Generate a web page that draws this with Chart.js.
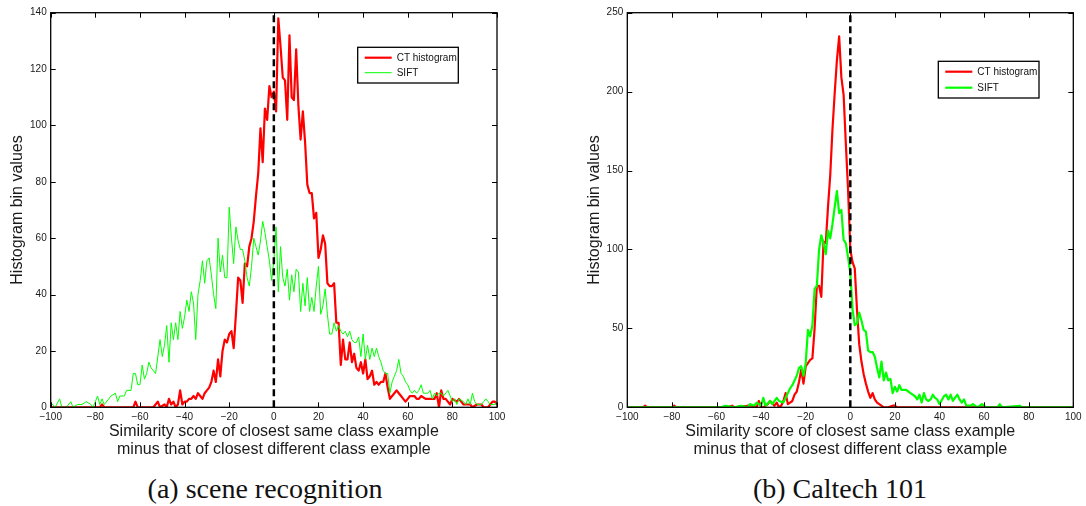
<!DOCTYPE html>
<html>
<head>
<meta charset="utf-8">
<script src="https://cdn.jsdelivr.net/npm/chart.js@4"></script>
<style>
  body { margin: 0; background: #fff; width: 1086px; height: 506px; position: relative; overflow: hidden; }
  canvas { position: absolute; top: 0; }
  #cvA { left: 0; }
  #cvB { left: 577px; }
  .cap { position: absolute; top: 471px; font-family: "Liberation Serif", "DejaVu Serif", serif; font-size: 28px; color: #111; text-align: center; width: 400px; line-height: 36px; }
</style>
</head>
<body>
<canvas id="cvA" width="543" height="470"></canvas>
<canvas id="cvB" width="509" height="470"></canvas>
<div class="cap" style="left:65px">(a) scene recognition</div>
<div class="cap" style="left:640px">(b) Caltech 101</div>
<script>
// ---------------- data: [score, count] ----------------
// (a) scene recognition
const ctSceneA = [[-100,0],[-78,0],[-77,1],[-76,0],[-63,0],[-62,2],[-61,0],[-54,0],[-53,1],[-52,2],[-51,0],
  [-49,1],[-48,0],[-47,3],[-46,1],[-45,2],[-44,0],[-43,1],[-42,6],[-41,1],[-40,2],[-39,2],[-38,3],[-37,3],
  [-36,4],[-35,3],[-34,5],[-33,4],[-32,3],[-31,5],[-30,6],[-29,7],[-28,9],[-27,13],[-26,9],[-25,17],[-24,11],
  [-23,20],[-22,24],[-21,23],[-20,26],[-19,27],[-18,21],[-17,33],[-16,46],[-15,45],[-14,37],[-13,51],[-12,50],
  [-11,57],[-10,60],[-9,66],[-8,75],[-7,83],[-6,99],[-5,87],[-4,106],[-3,102],[-2,114],[-1,110],[0,112],
  [1,105],[2,138],[3,128],[4,117],[5,116],[6,102],[7,132],[8,110],[9,109],[10,127],[11,107],[12,95],[13,105],
  [14,94],[15,79],[16,76],[17,76],[18,67],[19,69],[20,53],[21,56],[22,61],[23,58],[24,44],[25,43],[26,43],
  [27,44],[28,30],[29,30],[30,15],[31,24],[32,17],[33,17],[34,23],[35,16],[36,19],[37,14],[38,13],[39,16],
  [40,12],[41,17],[42,10],[43,11],[44,13],[45,8],[46,9],[47,8],[48,9],[49,9],[50,12],[51,7],[52,3],[53,4],
  [54,5],[55,6],[56,5],[57,4],[58,3],[59,2],[60,3],[61,4],[62,4],[63,4],[64,3],[65,3],[66,4],[68,3],[70,3],
  [72,3],[73,5],[74,0],[75,6],[76,3],[77,3],[79,1],[80,3],[82,2],[83,3],[85,1],[86,1],[88,1],[89,0],[91,1],
  [93,1],[94,0],[96,0],[97,1],[98,2],[99,2],[100,1]];
const siftSceneA = [[-100,1],[-99,1],[-98,0],[-96,3],[-95,0],[-93,0],[-91,2],[-90,0],[-88,1],[-86,1],[-84,2],
  [-82,1],[-81,0],[-79,4],[-78,1],[-77,3],[-76,1],[-74,3],[-73,4],[-71,5],[-70,2],[-69,4],[-67,4],[-66,6],
  [-64,6],[-63,12],[-62,12],[-61,8],[-60,8],[-59,15],[-58,10],[-57,12],[-56,16],[-55,14],[-54,13],[-53,12],
  [-51,24],[-50,18],[-49,22],[-48,29],[-47,16],[-46,30],[-45,24],[-44,30],[-43,24],[-42,34],[-41,28],[-40,32],
  [-39,38],[-38,34],[-37,41],[-36,37],[-35,24],[-34,40],[-33,45],[-32,52],[-31,44],[-30,52],[-29,53],[-28,47],
  [-27,40],[-26,35],[-25,60],[-24,48],[-23,54],[-22,46],[-21,46],[-20,71],[-19,60],[-18,51],[-17,64],[-16,59],
  [-15,56],[-14,56],[-13,52],[-12,46],[-11,43],[-10,50],[-9,60],[-8,57],[-7,54],[-6,59],[-5,66],[-4,62],
  [-3,57],[-2,52],[-1,45],[0,52],[1,64],[2,41],[3,57],[4,46],[5,43],[6,49],[7,38],[8,47],[9,41],[10,49],
  [11,48],[12,34],[13,44],[14,36],[15,46],[16,34],[17,39],[18,34],[19,43],[20,50],[21,33],[22,36],[23,42],
  [24,33],[25,26],[26,26],[27,30],[28,27],[29,29],[30,27],[31,26],[32,27],[33,25],[34,27],[35,24],[36,23],
  [37,23],[38,25],[39,18],[40,26],[41,17],[42,22],[43,17],[44,21],[45,18],[46,21],[47,18],[48,16],[49,13],
  [50,12],[51,12],[52,5],[53,9],[54,11],[55,13],[56,17],[57,12],[58,11],[59,9],[60,8],[61,6],[62,5],[63,6],
  [64,5],[65,6],[66,8],[67,5],[69,5],[70,6],[71,3],[72,5],[73,4],[74,5],[75,5],[76,4],[78,6],[79,4],[80,2],
  [81,3],[82,1],[83,3],[85,2],[86,1],[87,3],[88,1],[89,5],[90,2],[91,1],[93,1],[94,2],[95,3],[96,2],[97,1],
  [99,1],[100,2]];
// (b) Caltech 101
const ctCaltechB = [[-100,0],[-93,0],[-92,1],[-91,0],[-80,0],[-79,1],[-78,0],[-55,0],[-53,1],[-52,0],[-46,1],
  [-44,1],[-42,0],[-41,4],[-40,0],[-39,0],[-37,2],[-36,4],[-34,1],[-33,3],[-32,0],[-31,1],[-30,4],[-29,9],
  [-28,2],[-27,3],[-26,4],[-25,8],[-24,10],[-23,16],[-22,24],[-21,15],[-20,26],[-19,28],[-18,30],[-17,31],
  [-16,50],[-15,77],[-14,77],[-13,70],[-12,105],[-11,104],[-10,127],[-9,147],[-8,176],[-7,199],[-6,220],
  [-5,235],[-4,209],[-3,198],[-2,167],[-1,138],[0,100],[1,92],[2,88],[3,62],[4,40],[5,29],[6,21],[7,15],
  [8,10],[9,6],[10,9],[11,5],[12,3],[13,2],[15,0],[17,0],[19,1],[20,1],[21,0],[100,0]];
const siftCaltechB = [[-100,0],[-58,0],[-56,1],[-52,0],[-49,1],[-46,0],[-45,2],[-43,1],[-42,3],[-40,1],[-39,6],
  [-38,1],[-36,4],[-35,2],[-33,6],[-32,4],[-30,3],[-29,6],[-27,12],[-26,14],[-24,20],[-23,25],[-22,26],
  [-21,20],[-20,28],[-19,49],[-18,45],[-17,52],[-16,75],[-15,77],[-14,100],[-13,109],[-12,104],[-11,97],
  [-10,112],[-9,107],[-8,116],[-7,127],[-6,137],[-5,123],[-4,125],[-3,106],[-2,104],[-1,95],[0,85],[1,62],
  [2,52],[3,53],[4,60],[5,55],[6,49],[7,48],[8,36],[9,35],[10,35],[11,32],[12,25],[13,19],[14,29],[15,17],
  [16,22],[17,17],[18,18],[19,9],[20,13],[21,10],[22,14],[23,11],[24,11],[25,11],[26,10],[27,9],[28,8],
  [29,7],[30,5],[31,8],[32,3],[33,9],[34,5],[35,4],[36,5],[37,8],[38,6],[39,5],[40,2],[42,7],[43,8],[44,5],
  [45,8],[46,4],[48,8],[49,5],[50,3],[51,5],[52,1],[54,1],[55,2],[57,0],[59,2],[61,0],[66,0],[67,2],[68,0],
  [76,1],[77,0],[100,0]];

const seriesNames = ['CT histogram', 'SIFT'];
const xTicks = [-100, -80, -60, -40, -20, 0, 20, 40, 60, 80, 100];
const yTicksA = [0, 20, 40, 60, 80, 100, 120, 140];
const yTicksB = [0, 50, 100, 150, 200, 250];
const xTitle = ['Similarity score of closest same class example', 'minus that of closest different class example'];
const yTitle = 'Histogram bin values';

Chart.defaults.font.family = '"Liberation Sans", Arial, Helvetica, sans-serif';
Chart.defaults.color = '#1a1a1a';

// box + inward ticks on all four sides, matlab style
const frameTicks = {
  id: 'frameTicks',
  afterDatasetsDraw(chart, args, opts) {
    const { ctx, chartArea: a, scales: { x, y } } = chart;
    const len = opts.len || 5;
    ctx.save();
    ctx.strokeStyle = '#000';
    ctx.lineWidth = 1;
    ctx.beginPath();
    x.ticks.forEach(t => {
      const px = Math.round(x.getPixelForValue(t.value)) + 0.5;
      ctx.moveTo(px, a.bottom); ctx.lineTo(px, a.bottom - len);
      ctx.moveTo(px, a.top); ctx.lineTo(px, a.top + len);
    });
    y.ticks.forEach(t => {
      const py = Math.round(y.getPixelForValue(t.value)) + 0.5;
      ctx.moveTo(a.left, py); ctx.lineTo(a.left + len, py);
      ctx.moveTo(a.right, py); ctx.lineTo(a.right - len, py);
    });
    ctx.stroke();
    ctx.lineWidth = 1.3;
    ctx.strokeRect(a.left, a.top, a.right - a.left, a.bottom - a.top);
    ctx.restore();
  }
};

// legend box drawn inside the axes
const boxLegend = {
  id: 'boxLegend',
  afterDraw(chart, args, o) {
    const { ctx, chartArea: a } = chart;
    const items = chart.data.datasets.filter(d => d.label);
    const x0 = a.left + o.dx, y0 = a.top + o.dy;
    ctx.save();
    ctx.fillStyle = '#fff';
    ctx.fillRect(x0, y0, o.w, o.h);
    ctx.strokeStyle = '#000';
    ctx.lineWidth = 1.3;
    ctx.strokeRect(x0, y0, o.w, o.h);
    ctx.font = '10px "Liberation Sans", Arial, sans-serif';
    ctx.textBaseline = 'middle';
    items.forEach((d, i) => {
      const yy = y0 + o.row0 + i * o.gap;
      ctx.strokeStyle = d.borderColor;
      ctx.lineWidth = d.borderWidth;
      ctx.beginPath();
      ctx.moveTo(x0 + 7, yy); ctx.lineTo(x0 + 34, yy);
      ctx.stroke();
      ctx.fillStyle = '#111';
      ctx.fillText(d.label, x0 + 39, yy + 0.5);
    });
    ctx.restore();
  }
};

function toPts(arr) { return arr.map(p => ({ x: p[0], y: p[1] })); }
function minus(v) { return String(v).replace('-', '\u2212'); }

function makeChart(id, ct, sift, yTicks, widths, geo, legendGeo) {
  const yMax = yTicks[yTicks.length - 1];
  return new Chart(document.getElementById(id), {
    type: 'line',
    data: {
      datasets: [
        { label: seriesNames[0], data: toPts(ct), borderColor: '#ff0000', borderWidth: widths[0], order: 2 },
        { label: seriesNames[1], data: toPts(sift), borderColor: '#00ff00', borderWidth: widths[1], order: 1 },
        { data: [{ x: 0, y: yTicks[0] }, { x: 0, y: yMax }], borderColor: '#000', borderWidth: 2.5,
          borderDash: [7, 4], order: 0 }
      ]
    },
    options: {
      responsive: false,
      animation: false,
      events: [],
      elements: { point: { radius: 0 }, line: { tension: 0, borderJoinStyle: 'round' } },
      layout: { padding: { left: 0, top: geo.top, right: geo.right, bottom: 0 } },
      plugins: {
        legend: { display: false },
        tooltip: { enabled: false },
        frameTicks: { len: 5 },
        boxLegend: legendGeo
      },
      scales: {
        x: {
          type: 'linear', min: xTicks[0], max: xTicks[xTicks.length - 1],
          afterBuildTicks: s => { s.ticks = xTicks.map(v => ({ value: v })); },
          afterFit: s => { s.height = geo.xh; },
          grid: { display: false, drawTicks: false },
          border: { display: false },
          ticks: { font: { size: 10 }, padding: 4, maxRotation: 0, callback: v => minus(v) },
          title: { display: true, text: xTitle, font: { size: 16, lineHeight: 1.125 }, padding: { top: 0, bottom: 11 } }
        },
        y: {
          type: 'linear', min: yTicks[0], max: yMax,
          afterBuildTicks: s => { s.ticks = yTicks.map(v => ({ value: v })); },
          afterFit: s => { s.width = geo.yw; },
          grid: { display: false, drawTicks: false },
          border: { display: false },
          ticks: { font: { size: 10 }, padding: 4 },
          title: { display: true, text: yTitle, font: { size: 16, lineHeight: 1.125 }, padding: { top: 9, bottom: 0 } }
        }
      }
    },
    plugins: [frameTicks, boxLegend]
  });
}

makeChart('cvA', ctSceneA, siftSceneA, yTicksA, [2.2, 1],
  { top: 12.7, right: 46, xh: 62.7, yw: 50.7 },
  { dx: 307, dy: 34.6, w: 100.6, h: 35.7, row0: 10.4, gap: 15 });
makeChart('cvB', ctCaltechB, siftCaltechB, yTicksB, [2.2, 2.2],
  { top: 12.7, right: 12.7, xh: 62.7, yw: 50.3 },
  { dx: 311, dy: 48.6, w: 100.7, h: 36.7, row0: 10.4, gap: 16 });
</script>
</body>
</html>
